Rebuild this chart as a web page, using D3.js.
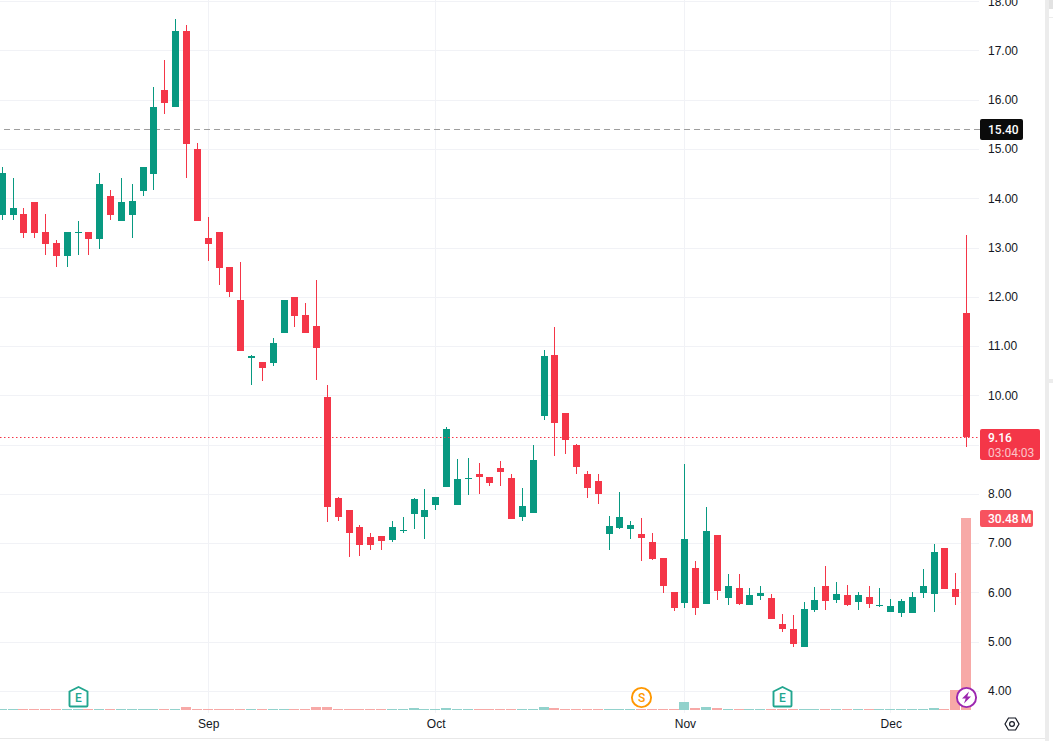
<!DOCTYPE html>
<html>
<head>
<meta charset="utf-8">
<script src="https://cdn.jsdelivr.net/npm/d3@7"></script>
<style>
    html, body { margin: 0; padding: 0; background: #fff; overflow: hidden; }
    svg { display: block; font-family: Roboto, sans-serif; }
    .tick text { fill: #131722; font-size: 12px; }
</style>
</head>
<body>
<script>
//daily candles, oldest first
var opens = [13.67,13.67,13.69,13.93,13.32,13.10,12.83,13.30,13.32,13.18,14.05,13.54,13.67,14.15,14.50,16.20,15.86,17.40,15.00,13.20,
    13.32,12.61,11.94,10.77,10.68,10.66,11.27,12.00,11.64,11.41,9.98,7.93,7.69,7.34,7.14,7.16,7.08,7.26,7.60,7.53,
    7.79,8.15,7.79,8.32,8.42,8.36,8.54,8.34,7.54,7.63,9.59,10.83,9.65,9.00,8.42,8.28,7.20,7.32,7.30,7.20,
    7.04,6.71,6.02,5.80,6.51,5.78,7.18,5.90,6.09,5.76,5.94,5.90,5.36,5.27,4.91,5.66,6.13,5.86,5.96,5.82,
    5.92,5.74,5.62,5.60,5.60,6.00,5.98,6.90,6.07,11.68];
var highs = [14.64,14.42,13.81,13.93,13.69,13.16,13.32,13.54,13.32,14.52,14.17,14.42,14.30,14.64,16.26,16.81,17.64,17.52,15.13,13.62,
    13.32,12.61,12.71,10.83,10.68,11.17,11.94,12.00,11.88,12.35,10.22,7.95,7.69,7.38,7.22,7.16,7.46,7.54,7.93,8.11,
    7.95,9.37,8.72,8.74,8.64,8.36,8.68,8.42,8.13,9.00,10.93,11.40,9.65,9.03,8.48,8.42,7.56,8.05,7.46,7.52,
    7.22,6.71,6.02,8.62,6.65,7.75,7.18,6.39,6.39,6.09,6.13,5.98,5.56,5.54,5.82,6.11,6.55,6.21,6.15,6.02,
    6.13,6.09,5.88,5.88,6.02,6.49,7.00,6.90,6.41,13.27];
var lows = [13.56,13.56,13.20,13.20,12.86,12.61,12.61,12.86,12.86,12.98,13.56,13.54,13.20,14.05,14.17,15.73,15.86,14.42,13.54,12.73,
    12.25,12.00,10.91,10.22,10.30,10.60,11.27,11.39,11.27,10.32,7.44,7.46,6.73,6.75,6.87,6.87,7.04,7.22,7.30,7.10,
    7.69,8.15,7.79,7.99,8.01,8.17,8.17,7.50,7.46,7.63,9.51,8.78,8.82,8.42,7.93,7.81,6.86,7.30,7.10,6.65,
    6.67,6.00,5.64,5.70,5.54,5.78,5.86,5.76,5.76,5.76,5.86,5.46,5.21,4.89,4.91,5.62,5.66,5.80,5.74,5.66,
    5.70,5.72,5.62,5.50,5.60,5.90,5.62,6.07,5.76,8.96];
var closes = [14.52,13.81,13.30,13.30,13.08,12.83,13.32,13.32,13.18,14.30,13.67,13.93,13.95,14.64,15.86,15.94,17.40,15.11,13.54,13.08,
    12.59,12.10,10.91,10.81,10.56,11.07,11.94,11.62,11.27,10.97,7.75,7.54,7.22,6.98,6.98,7.06,7.34,7.28,7.91,7.69,
    7.95,9.33,8.32,8.34,8.36,8.23,8.46,7.50,7.77,8.70,10.81,9.45,9.11,8.56,8.13,8.01,7.36,7.54,7.38,7.12,
    6.69,6.13,5.70,7.10,5.70,7.26,6.04,6.13,5.78,5.96,6.00,5.46,5.27,4.97,5.68,5.86,5.84,5.98,5.76,5.96,
    5.78,5.76,5.74,5.84,5.92,6.13,6.82,6.07,5.92,9.16];
//volume in millions
var volumes = [0.15,0.15,0.15,0.15,0.15,0.15,0.15,0.15,0.15,0.15,0.15,0.15,0.15,0.15,0.15,0.15,0.15,0.42,0.15,0.15,
    0.15,0.15,0.15,0.15,0.15,0.15,0.15,0.15,0.15,0.42,0.42,0.15,0.15,0.15,0.15,0.15,0.15,0.15,0.32,0.15,
    0.15,0.28,0.15,0.15,0.15,0.15,0.15,0.15,0.15,0.15,0.40,0.26,0.15,0.15,0.15,0.15,0.15,0.15,0.15,0.15,
    0.15,0.15,0.15,1.30,0.32,0.42,0.26,0.15,0.15,0.15,0.15,0.15,0.15,0.15,0.15,0.15,0.15,0.15,0.15,0.15,
    0.15,0.15,0.15,0.15,0.15,0.15,0.28,0.12,3.20,30.48];

var priceTicks = [18,17,16,15,14,13,12,11,10,9,8,7,6,5,4];
var priceLabels = [18,17,16,15,14,13,12,11,10,8,7,6,5,4]; //9.00 sits under the last price tag
var monthLabels = ["Sep","Oct","Nov","Dec"];
var monthIndex = [19,40,63,82]; //first trading day of each month

var lastClose = 9.16, countdown = "03:04:03", volumeLabel = "30.48\u2009M";
var highLevel = 15.40;

//earnings, split and news markers on the time axis
var markers = [
    {kind:"E", day:7},
    {kind:"S", day:59},
    {kind:"E", day:72},
    {kind:"N", day:89}
];

var w = 1053, h = 741, paneRight = 980, axisBottom = 710;
var upColor = "#089981", downColor = "#f43648", gridColor = "#f1f2f6";

var svg = d3.select("body").append("svg")
    .attr("width", w)
    .attr("height", h);

var x = d3.scaleLinear().domain([0,89]).range([2.3,966.615]);
var y = d3.scaleLinear().domain([4,18]).range([691.34,1.7]);
var yVol = d3.scaleLinear().domain([0,30.48]).range([axisBottom,518]);

var days = d3.range(closes.length);
function isUp(i){ return closes[i] >= opens[i]; }
function px(v){ return Math.floor(v)+0.5; } //centre of the pixel row or column
function candleColor(i){ return isUp(i) ? upColor : downColor; }

//grid first so everything sits on top of it
svg.selectAll(".hgrid")
    .data(priceTicks)
    .enter()
    .append("line")
    .attr("class","hgrid")
    .attr("x1",0).attr("x2",paneRight-1)
    .attr("y1",function(d){ return px(y(d)); })
    .attr("y2",function(d){ return px(y(d)); })
    .attr("stroke",gridColor);

svg.selectAll(".vgrid")
    .data(monthIndex)
    .enter()
    .append("line")
    .attr("class","vgrid")
    .attr("y1",0).attr("y2",axisBottom+3)
    .attr("x1",function(d){ return px(x(d)); })
    .attr("x2",function(d){ return px(x(d)); })
    .attr("stroke",gridColor);

//volume bars
svg.selectAll(".vol")
    .data(days)
    .enter()
    .append("rect")
    .attr("class","vol")
    .attr("x",function(i){ return Math.floor(x(i))-5; })
    .attr("width",10)
    .attr("y",function(i){ return Math.round(yVol(volumes[i])); })
    .attr("height",function(i){ return axisBottom-Math.round(yVol(volumes[i])); })
    .attr("fill",function(i){ return isUp(i) ? "#92d2cc" : "#f7a9a7"; });

//level lines
svg.append("line")
    .attr("x1",4).attr("x2",paneRight)
    .attr("y1",px(y(highLevel))).attr("y2",px(y(highLevel)))
    .attr("stroke","#9e9e9e").attr("stroke-dasharray","6,4");

//candles
var wicks = svg.selectAll(".wick")
    .data(days)
    .enter()
    .append("rect")
    .attr("class","wick")
    .attr("x",function(i){ return Math.floor(x(i)); })
    .attr("width",1)
    .attr("y",function(i){ return Math.round(y(highs[i])); })
    .attr("height",function(i){ return Math.round(y(lows[i]))-Math.round(y(highs[i])); })
    .attr("fill",candleColor);

var bodies = svg.selectAll(".body")
    .data(days)
    .enter()
    .append("rect")
    .attr("class","body")
    .attr("x",function(i){ return Math.floor(x(i))-3; })
    .attr("width",7)
    .attr("y",function(i){ return Math.round(y(Math.max(opens[i],closes[i]))); })
    .attr("height",function(i){ return Math.max(1,Math.round(y(Math.min(opens[i],closes[i])))-Math.round(y(Math.max(opens[i],closes[i])))); })
    .attr("fill",candleColor);

svg.append("line")
    .attr("x1",0).attr("x2",paneRight)
    .attr("y1",px(y(lastClose))).attr("y2",px(y(lastClose)))
    .attr("stroke",downColor).attr("stroke-dasharray","1.5,2.5");

//price axis
svg.append("g")
    .attr("transform","translate(988,0)")
    .call(d3.axisRight(y).tickValues(priceLabels).tickSize(0).tickPadding(0).offset(0).tickFormat(d3.format(".2f")))
    .call(function(g){ g.select(".domain").remove(); });

//time axis
svg.append("g")
    .attr("transform","translate(0,719)")
    .call(d3.axisBottom(x).tickValues(monthIndex).tickSize(0).tickPadding(0)
        .tickFormat(function(d,i){ return monthLabels[i]; }))
    .call(function(g){ g.select(".domain").remove(); });

//price tags on the axis
svg.append("rect").attr("x",paneRight).attr("y",119).attr("width",43).attr("height",21).attr("rx",2).attr("fill","#0b0b0b");
svg.append("text").attr("x",988).attr("y",134).attr("fill","#fff").attr("font-size",12).attr("font-weight",500)
    .text(d3.format(".2f")(highLevel));

svg.append("rect").attr("x",paneRight).attr("y",429).attr("width",60).attr("height",31).attr("rx",2).attr("fill",downColor);
svg.append("text").attr("x",988).attr("y",441.5).attr("fill","#fff").attr("font-size",12).attr("font-weight",500)
    .text(d3.format(".2f")(lastClose));
svg.append("text").attr("x",988).attr("y",456.5).attr("fill","#fbc4c8").attr("font-size",12)
    .text(countdown);

svg.append("rect").attr("x",paneRight).attr("y",510).attr("width",53).attr("height",17).attr("rx",2).attr("fill","#f7525f");
svg.append("text").attr("x",988).attr("y",523).attr("fill","#fff").attr("font-size",12).attr("font-weight",500)
    .text(volumeLabel);

//event markers
var marks = svg.selectAll(".marker")
    .data(markers)
    .enter()
    .append("g")
    .attr("class","marker")
    .attr("transform",function(d){ return "translate("+(Math.floor(x(d.day))+0.5)+",697.5)"; });

marks.filter(function(d){ return d.kind=="E"; })
    .append("path")
    .attr("d","M-9,-6 L0,-10.5 L9,-6 L9,8 Q9,9 8,9 L-8,9 Q-9,9 -9,8 Z")
    .attr("fill","#fff").attr("stroke","#22a68f").attr("stroke-width",1.9);
marks.filter(function(d){ return d.kind=="E"; })
    .append("text")
    .attr("text-anchor","middle").attr("y",4.5)
    .attr("font-size",12).attr("font-weight",500).attr("fill","#22a68f")
    .text("E");

marks.filter(function(d){ return d.kind=="S"; })
    .append("circle").attr("r",9.6).attr("fill","#fff").attr("stroke","#ff9800").attr("stroke-width",1.9);
marks.filter(function(d){ return d.kind=="S"; })
    .append("text")
    .attr("text-anchor","middle").attr("y",4.5)
    .attr("font-size",12).attr("font-weight",500).attr("fill","#ff9800")
    .text("S");

marks.filter(function(d){ return d.kind=="N"; })
    .append("circle").attr("r",9.6).attr("fill","#fff").attr("stroke","#9c27b0").attr("stroke-width",1.9);
marks.filter(function(d){ return d.kind=="N"; })
    .append("path")
    .attr("d","M2.5,-6 L-4.5,1 L-0.8,1 L-2.5,6 L4.5,-1 L0.8,-1 Z")
    .attr("fill","#9c27b0");

//settings hexagon
svg.append("path")
    .attr("d","M1005,724 L1008.5,718 L1015.5,718 L1019,724 L1015.5,730 L1008.5,730 Z")
    .attr("fill","none").attr("stroke","#131722").attr("stroke-width",1.2);
svg.append("circle").attr("cx",1012).attr("cy",724).attr("r",2.4)
    .attr("fill","none").attr("stroke","#131722").attr("stroke-width",1.2);

//page edges around the chart widget
svg.append("rect").attr("x",0).attr("y",738).attr("width",1045).attr("height",1).attr("fill","#e8e8e8");
svg.append("rect").attr("x",1045).attr("y",0).attr("width",4).attr("height",h).attr("fill","#ececec");
svg.append("rect").attr("x",1049).attr("y",0).attr("width",4).attr("height",9).attr("fill","#e2e2e2");
svg.append("rect").attr("x",1049).attr("y",17).attr("width",4).attr("height",1).attr("fill","#ececec");
svg.append("rect").attr("x",1049).attr("y",379).attr("width",4).attr("height",4).attr("fill","#ececec");
</script>
</body>
</html>
